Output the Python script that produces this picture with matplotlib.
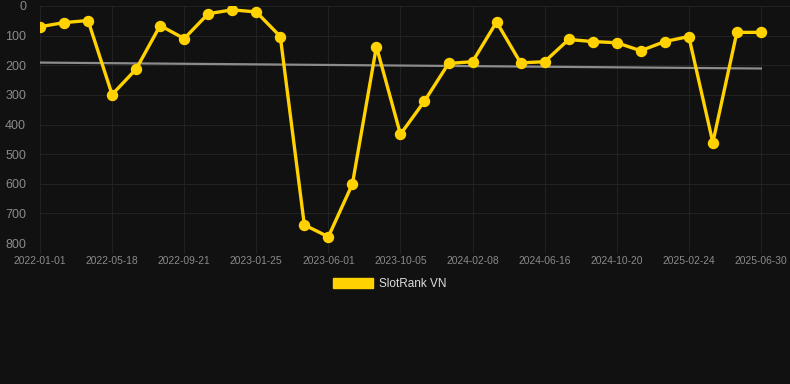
import matplotlib

matplotlib.use("Agg")
import matplotlib.pyplot as plt
from matplotlib.patches import Patch

# rank per snapshot (lower is better), one point every ~6 weeks
rank_vn = [
    70, 56, 49, 299, 213, 66, 110, 26, 13, 20, 103,
    739, 779, 601, 137, 433, 321, 194, 188, 54, 192,
    188, 113, 120, 124, 151, 120, 103, 461, 89, 89,
]
tick_labels = [
    "2022-01-01", "2022-05-18", "2022-09-21", "2023-01-25", "2023-06-01",
    "2023-10-05", "2024-02-08", "2024-06-16", "2024-10-20", "2025-02-24",
    "2025-06-30",
]
trend_ends = [191, 211]
y_ticks = [0, 100, 200, 300, 400, 500, 600, 700, 800]

BG = "#111111"
GRID = "#222222"
GOLD = "#FFD200"
TICK = "#8a8a8a"

plt.rcParams["font.family"] = ["Liberation Sans", "DejaVu Sans"]

fig = plt.figure(figsize=(7.9, 3.84), dpi=100, facecolor=BG)
ax = fig.add_axes([40 / 790, 1 - 243 / 384, 750 / 790, 237 / 384], facecolor=BG)

xs = list(range(len(rank_vn)))
ax.plot([xs[0], xs[-1]], trend_ends, color="#8c8c8c", linewidth=1.6, zorder=2)
ax.plot(xs, rank_vn, color=GOLD, linewidth=2.4, marker="o", markersize=7.2,
        markerfacecolor=GOLD, markeredgecolor=GOLD, zorder=3)

ax.set_xlim(0, 750 / 24.03)
ax.set_ylim(800, 0)
ax.set_xticks(xs[::3])
ax.set_xticklabels(tick_labels)
ax.set_yticks(y_ticks)

ax.grid(True, color=GRID, linewidth=0.8)
for side in ax.spines.values():
    side.set_visible(False)
ax.tick_params(axis="x", colors=GRID, length=7, width=0.8, pad=2,
               labelsize=7.4, labelcolor=TICK)
ax.tick_params(axis="y", length=0, pad=10, labelsize=9, labelcolor=TICK)

fig.legend(handles=[Patch(facecolor=GOLD, edgecolor=GOLD)], labels=["SlotRank VN"],
           loc="center", bbox_to_anchor=(390 / 790, 1 - 284 / 384),
           frameon=False, fontsize=8.5, labelcolor="#dddddd",
           handlelength=3.4, handleheight=0.9, handletextpad=0.5)

fig.savefig("out.png", dpi=100, facecolor=BG)
